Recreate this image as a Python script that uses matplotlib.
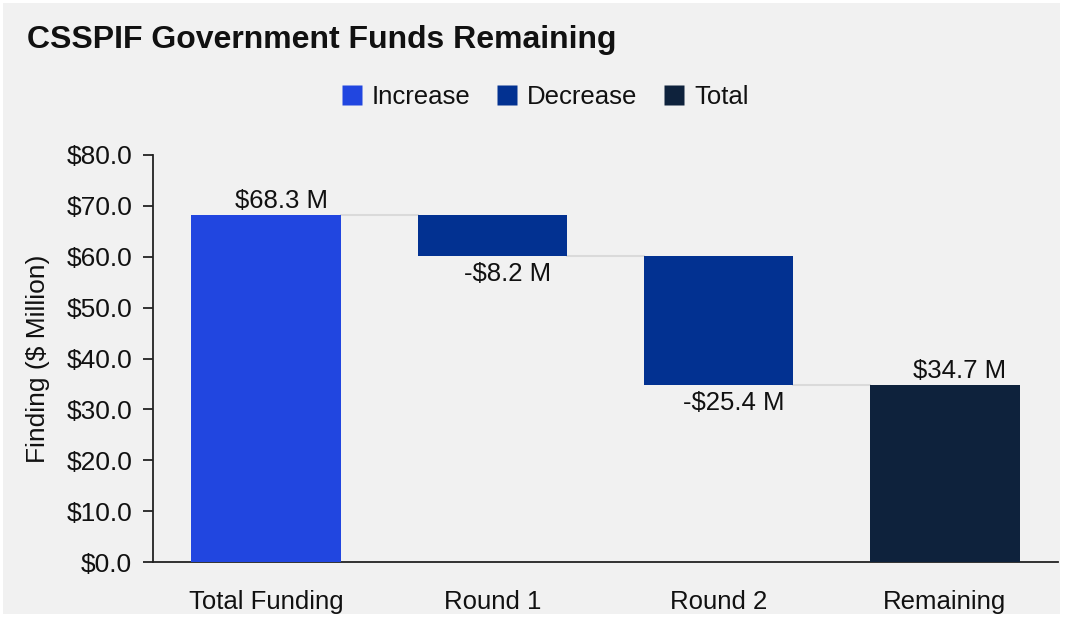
import matplotlib.pyplot as plt
from matplotlib.patches import Rectangle
from matplotlib.lines import Line2D

plt.rcParams['font.family'] = ['Liberation Sans', 'DejaVu Sans']

# Waterfall data ($ million)
categories = ['Total Funding', 'Round 1', 'Round 2', 'Remaining']
changes = [68.3, -8.2, -25.4, 34.7]
kinds = ['Increase', 'Decrease', 'Decrease', 'Total']
labels = ['$68.3 M', '-$8.2 M', '-$25.4 M', '$34.7 M']

colors = {'Increase': '#2146e0', 'Decrease': '#023191', 'Total': '#0e223c'}
bg = '#f1f1f1'
txt = '#111111'

fig = plt.figure(figsize=(10.65, 6.19), dpi=100, facecolor='white')
fig.patches.append(Rectangle((3 / 1065, 5 / 619), 1057 / 1065, 611 / 619,
                             transform=fig.transFigure, facecolor=bg,
                             edgecolor='none', zorder=-10))

ax = fig.add_axes([153 / 1065, 1 - 562 / 619, 905 / 1065, 407 / 619])
ax.set_facecolor(bg)

# bottoms/tops of the floating bars and the running level after each one
bottoms, tops, ends = [], [], []
level = 0.0
for val, kind in zip(changes, kinds):
    if kind == 'Total':
        b, t = 0.0, val
        level = val
    else:
        new = level + val
        b, t = min(level, new), max(level, new)
        level = new
    bottoms.append(b)
    tops.append(t)
    ends.append(level)

width = 0.66
x = list(range(len(categories)))
ax.bar(x, [t - b for t, b in zip(tops, bottoms)], bottom=bottoms, width=width,
       color=[colors[k] for k in kinds], zorder=3)

# connector lines between bars
for i in range(len(categories) - 1):
    ax.plot([i + width / 2, i + 1 - width / 2], [ends[i], ends[i]],
            color='#dadada', lw=1.5, zorder=2)

# value labels
for i, (val, lab) in enumerate(zip(changes, labels)):
    if val >= 0:
        ax.annotate(lab, (i, tops[i]), xytext=(15, 2), textcoords='offset pixels',
                    ha='center', va='bottom', fontsize=18.5, color=txt)
    else:
        ax.annotate(lab, (i, bottoms[i]), xytext=(15, -6), textcoords='offset pixels',
                    ha='center', va='top', fontsize=18.5, color=txt)

ax.set_xlim(-0.5, 3.5)
ax.set_ylim(0, 80)
ax.set_yticks(range(0, 81, 10))
ax.set_yticklabels([f'${v:.1f}' for v in range(0, 81, 10)])
ax.set_xticks(x)
ax.set_xticklabels(categories)
ax.tick_params(axis='y', length=7, width=1.2, pad=8, labelsize=19, colors=txt)
ax.tick_params(axis='x', length=0, pad=20, labelsize=18.5, colors=txt)
for s in ['top', 'right']:
    ax.spines[s].set_visible(False)
for s in ['left', 'bottom']:
    ax.spines[s].set_linewidth(1.3)
    ax.spines[s].set_color('#222222')

ax.set_ylabel('Finding ($ Million)', fontsize=19, color=txt, labelpad=12)

fig.text(27 / 1065, 1 - 40 / 619, 'CSSPIF Government Funds Remaining',
         fontsize=23, fontweight='bold', ha='left', va='center', color=txt)

handles = [Line2D([], [], marker='s', linestyle='none', markersize=14,
                  markerfacecolor=colors[k], markeredgecolor='none')
           for k in ['Increase', 'Decrease', 'Total']]
fig.legend(handles, ['Increase', 'Decrease', 'Total'], loc='center',
           bbox_to_anchor=(545 / 1065, 1 - 97 / 619), ncol=3, frameon=False,
           fontsize=18.5, handlelength=0.8, handletextpad=0.4, columnspacing=1.0,
           labelcolor=txt)

fig.savefig('out.png', dpi=100, facecolor='white')
